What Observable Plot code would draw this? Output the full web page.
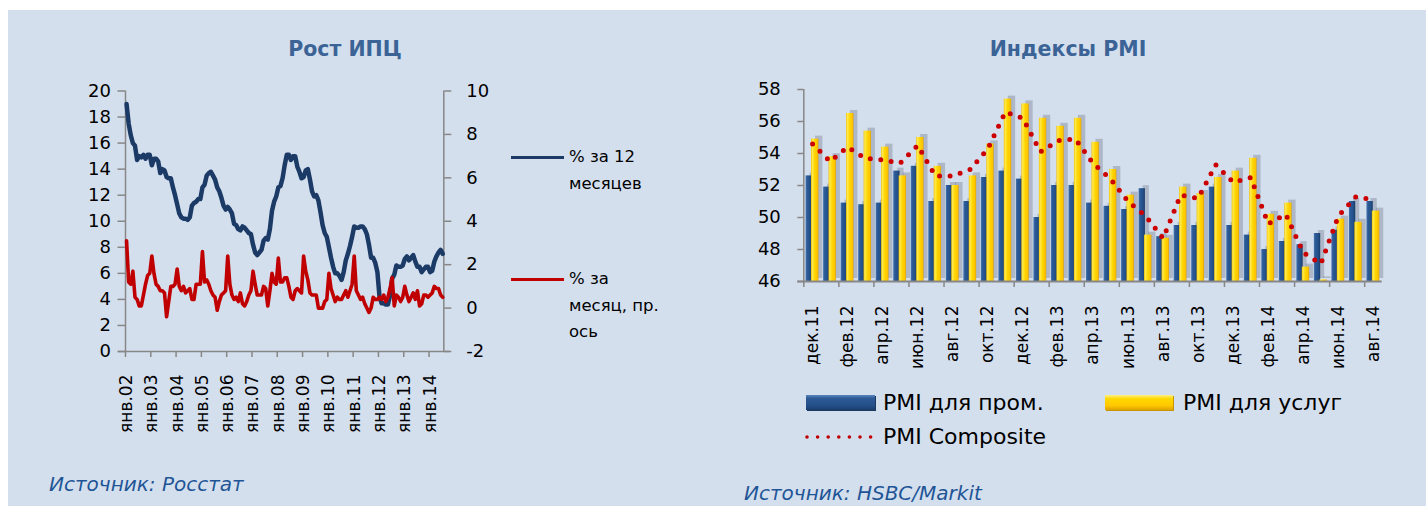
<!DOCTYPE html>
<html>
<head>
<meta charset="utf-8">
<script src="https://cdn.jsdelivr.net/npm/d3@7"></script>
<script src="https://cdn.jsdelivr.net/npm/@observablehq/plot@0.6"></script>
<style>
  html, body { margin: 0; padding: 0; background: #fff; }
  #page { position: relative; width: 1426px; height: 506px; overflow: hidden; background: #fff; font-family: "DejaVu Sans", sans-serif; }
  #panel { position: absolute; left: 8px; top: 10px; right: 0; bottom: 0; background: #d4dfee; }
  .abs { position: absolute; white-space: nowrap; line-height: 1; }
  .title { font-weight: bold; font-size: 20.5px; color: #3b6396; transform: translate(-50%, -50%); }
  .src { font-style: italic; font-size: 20px; color: #1f5596; transform: translateY(-50%); }
  .lg { font-size: 16.5px; color: #000; transform: translateY(-50%); }
  .lg2 { font-size: 22px; color: #000; transform: translateY(-50%); }
  .sw { position: absolute; }
</style>
</head>
<body>
<div id="page">
  <div id="panel"></div>
  <div class="abs title" style="left:345px; top:49px;">Рост ИПЦ</div>
  <div class="abs title" style="left:1068px; top:49px;">Индексы PMI</div>

  <div class="sw" style="left:511px; top:155.5px; width:53px; height:3px; background:#1b3a66;"></div>
  <div class="abs lg" style="left:569px; top:157px;">% за 12</div>
  <div class="abs lg" style="left:569px; top:184px;">месяцев</div>
  <div class="sw" style="left:511px; top:277.5px; width:53px; height:3px; background:#c00000;"></div>
  <div class="abs lg" style="left:569px; top:279px;">% за</div>
  <div class="abs lg" style="left:569px; top:306px;">месяц, пр.</div>
  <div class="abs lg" style="left:569px; top:332px;">ось</div>

  <div class="sw" style="left:806px; top:395px; width:69px; height:15px; background:linear-gradient(to bottom,#5a86c0 0%,#2d5a95 22%,#24508a 70%,#1a3e6c 100%); box-shadow: 1px 1px 0 #1a3a60;"></div>
  <div class="abs lg2" style="left:883px; top:403px;">PMI для пром.</div>
  <div class="sw" style="left:1105px; top:395px; width:68px; height:15px; background:linear-gradient(to bottom,#fff08a 0%,#ffd800 25%,#ffc800 70%,#dba200 100%); box-shadow: 1px 1px 0 #c89400;"></div>
  <div class="abs lg2" style="left:1183px; top:403px;">PMI для услуг</div>
  <svg class="sw" style="left:804px; top:430px;" width="72" height="14">
    <line x1="3" y1="7" x2="70" y2="7" stroke="#c00000" stroke-width="3.6" stroke-linecap="round" stroke-dasharray="0,10.6"></line>
  </svg>
  <div class="abs lg2" style="left:883px; top:437px;">PMI Composite</div>

  <div class="abs src" style="left:49px; top:484px;">Источник: Росстат</div>
  <div class="abs src" style="left:744px; top:493px;">Источник: HSBC/Markit</div>
</div>
<script>
// ---------- CPI data (monthly, янв.2002 – июл.2014) ----------
const cpiYearLabels = ["янв.02","янв.03","янв.04","янв.05","янв.06","янв.07","янв.08","янв.09","янв.10","янв.11","янв.12","янв.13","янв.14"];
const cpiYoY = [
  19.0,17.5,16.6,16.0,15.8,14.7,15.0,14.9,15.1,14.8,15.1,15.1,
  14.3,14.8,14.8,14.6,13.7,14.0,13.9,13.4,13.3,13.3,12.6,12.0,
  11.3,10.6,10.3,10.2,10.2,10.1,10.3,11.2,11.4,11.5,11.7,11.7,
  12.6,12.8,13.5,13.7,13.8,13.5,13.2,12.6,12.3,11.8,11.2,10.9,
  11.1,10.9,10.6,9.8,9.7,9.4,9.3,9.6,9.5,9.3,9.1,9.0,
  8.2,7.6,7.4,7.6,7.8,8.5,8.7,8.6,9.4,10.8,11.5,11.9,
  12.6,12.7,13.3,14.3,15.1,15.1,14.7,15.0,15.0,14.2,13.8,13.3,
  13.4,13.9,14.0,13.2,12.3,11.9,12.0,11.6,10.7,9.7,9.1,8.8,
  8.0,7.2,6.5,6.0,6.0,5.8,5.5,6.1,7.0,7.5,8.1,8.8,
  9.6,9.5,9.5,9.6,9.6,9.4,9.0,8.2,7.2,7.2,6.8,6.1,
  4.2,3.7,3.7,3.6,3.6,4.3,5.6,5.9,6.6,6.5,6.5,6.6,
  7.1,7.3,7.0,7.2,7.4,6.9,6.5,6.5,6.1,6.3,6.5,6.5,
  6.1,6.2,6.9,7.3,7.6,7.8,7.5
];
const cpiMoM = [
  3.1,1.2,1.1,1.7,0.5,0.4,0.1,0.1,0.6,1.1,1.5,1.6,
  2.4,1.6,1.1,1.0,0.8,0.8,0.7,-0.4,0.3,1.0,1.0,1.1,
  1.8,1.0,0.8,1.0,0.7,0.8,0.9,0.4,0.4,1.1,1.1,1.1,
  2.6,1.2,1.3,1.1,0.8,0.6,0.5,-0.1,0.3,0.6,0.7,0.8,
  2.4,1.1,0.6,0.4,0.5,0.3,0.7,0.2,0.1,0.3,0.6,0.8,
  1.7,1.1,0.6,0.6,0.6,1.0,0.9,0.1,0.8,1.6,1.2,1.1,
  2.3,1.2,1.2,1.4,1.4,1.0,0.5,0.4,0.8,0.9,0.8,0.7,
  2.4,1.7,1.3,0.7,0.6,0.6,0.6,0.0,0.0,0.0,0.3,0.4,
  1.6,0.9,0.6,0.3,0.5,0.4,0.4,0.6,0.8,0.5,0.8,1.1,
  2.4,0.8,0.6,0.4,0.5,0.2,0.0,-0.2,0.0,0.5,0.4,0.4,
  0.5,0.4,0.6,0.3,0.5,0.9,1.4,0.1,0.6,0.5,0.3,0.5,
  1.0,0.6,0.3,0.5,0.7,0.4,0.8,0.1,0.2,0.6,0.6,0.5,
  0.6,0.7,1.0,0.9,0.9,0.6,0.5
];
const cpiLeftTicks = [0,2,4,6,8,10,12,14,16,18,20];
const cpiRightTicks = [-2,0,2,4,6,8,10];

// ---------- PMI data (monthly, дек.11 – авг.14) ----------
const pmiMonths = ["дек.11","янв.12","фев.12","мар.12","апр.12","май.12","июн.12","июл.12","авг.12","сен.12","окт.12","ноя.12",
  "дек.12","янв.13","фев.13","мар.13","апр.13","май.13","июн.13","июл.13","авг.13","сен.13","окт.13","ноя.13",
  "дек.13","янв.14","фев.14","мар.14","апр.14","май.14","июн.14","июл.14","авг.14"];
const pmiManufacturing = [52.6,51.9,50.9,50.8,50.9,52.9,53.2,51.0,52.0,51.0,52.5,52.9,52.4,50.0,52.0,52.0,50.9,50.7,50.5,51.8,48.8,49.5,49.5,51.9,49.5,48.9,48.0,48.5,48.3,49.0,49.2,51.0,51.0];
const pmiServices = [54.9,53.8,56.5,55.4,54.4,52.6,55.0,53.2,52.0,52.6,54.6,57.4,57.1,56.2,55.7,56.2,54.7,53.0,51.4,48.9,48.7,51.9,51.5,52.5,52.9,53.7,50.2,50.9,46.9,46.1,49.9,49.7,50.4];
const pmiComposite = [54.6,53.5,54.4,53.7,53.6,53.4,54.5,52.6,52.6,53.0,54.3,56.6,56.2,54.1,54.8,54.9,53.4,52.4,51.0,50.1,48.7,51.4,51.2,53.3,52.2,52.5,49.6,50.2,47.8,47.1,50.1,51.3,51.1];
const pmiTicks = [46,48,50,52,54,56,58];

// ---------- styling ----------
const AX = "#878787";
const baseStyle = (left) => ({
  position: "absolute", left: left + "px", top: "0px",
  background: "transparent", overflow: "visible",
  fontFamily: "DejaVu Sans, sans-serif", fontSize: "18px", color: "#000", maxWidth: "none"
});

// right-axis (secondary) mapping onto the left scale
const rMin = cpiRightTicks[0], rMax = cpiRightTicks[cpiRightTicks.length - 1];
const lMin = cpiLeftTicks[0], lMax = cpiLeftTicks[cpiLeftTicks.length - 1];
const toLeft = v => lMin + (v - rMin) * (lMax - lMin) / (rMax - rMin);
const fromLeft = v => rMin + (v - lMin) * (rMax - rMin) / (lMax - lMin);

const nCpi = cpiYoY.length;
const yearIdx = cpiYearLabels.map((d, i) => i * 12);

const leftChart = Plot.plot({
  width: 715, height: 460,
  marginLeft: 125, marginRight: 715 - 443.3, marginTop: 90.5, marginBottom: 460 - 351,
  x: {domain: [0, nCpi], axis: null},
  y: {domain: [lMin, lMax], axis: null},
  style: baseStyle(0),
  marks: [
    Plot.axisY({ticks: cpiLeftTicks, tickSize: 7.5, tickPadding: 7, stroke: AX, strokeWidth: 1.5, fill: "#000", fontSize: 18}),
    Plot.axisY({anchor: "right", ticks: cpiRightTicks.map(toLeft), tickFormat: d => String(Math.round(fromLeft(d))),
      tickSize: 7, tickPadding: 15.5, stroke: AX, strokeWidth: 1.5, fill: "#000", fontSize: 18}),
    Plot.axisX({ticks: yearIdx, tickSize: 6, tickFormat: () => "", stroke: AX, strokeWidth: 1.5}),
    Plot.axisX({ticks: yearIdx.map(i => i + 0.5), tickSize: 0, tickPadding: 23, tickRotate: -90,
      tickFormat: d => cpiYearLabels[Math.round((d - 0.5) / 12)], fill: "#000", fontSize: 17}),
    Plot.ruleX([0, nCpi], {stroke: AX, strokeWidth: 1.5}),
    Plot.ruleY([lMin], {stroke: AX, strokeWidth: 1.5, insetLeft: -7, insetRight: -6}),
    Plot.line(cpiYoY, {x: (d, i) => i + 0.5, y: d => d, stroke: "#1b3a66", strokeWidth: 4.5, strokeLinejoin: "round"}),
    Plot.line(cpiMoM, {x: (d, i) => i + 0.5, y: d => toLeft(d), stroke: "#c00000", strokeWidth: 3.6, strokeLinejoin: "round"})
  ]
});

const nPmi = pmiMonths.length;
const pmiTickIdx = pmiMonths.map((d, i) => i).filter(i => i % 2 === 0);
const yBase = pmiTicks[0];

const rightChart = Plot.plot({
  width: 711, height: 460,
  marginLeft: 803.3 - 715, marginRight: 1426 - 1381.7, marginTop: 89, marginBottom: 460 - 281,
  x: {domain: [0, nPmi], axis: null},
  y: {domain: [yBase, pmiTicks[pmiTicks.length - 1]], axis: null},
  style: baseStyle(715),
  marks: [
    Plot.rectY(pmiManufacturing, {x1: (d, i) => i + 0.13, x2: (d, i) => i + 0.49, y1: yBase, y2: d => d,
      fill: "#5a6478", fillOpacity: 0.32, dx: 4, dy: -3, ariaLabel: "shadow"}),
    Plot.rectY(pmiServices, {x1: (d, i) => i + 0.44, x2: (d, i) => i + 0.86, y1: yBase, y2: d => d,
      fill: "#5a6478", fillOpacity: 0.32, dx: 4, dy: -3, ariaLabel: "shadow"}),
    Plot.rectY(pmiManufacturing, {x1: (d, i) => i + 0.13, x2: (d, i) => i + 0.49, y1: yBase, y2: d => d, fill: "url(#gBlue)"}),
    Plot.rectY(pmiServices, {x1: (d, i) => i + 0.44, x2: (d, i) => i + 0.86, y1: yBase, y2: d => d, fill: "url(#gYellow)"}),
    Plot.ruleX([0], {stroke: AX, strokeWidth: 1.5}),
    Plot.ruleY([yBase], {stroke: AX, strokeWidth: 2, insetLeft: -6}),
    Plot.axisY({ticks: pmiTicks, tickSize: 6, tickPadding: 17, stroke: AX, strokeWidth: 1.5, fill: "#000", fontSize: 18}),
    Plot.axisX({ticks: pmiTickIdx, tickSize: 6, tickFormat: () => "", stroke: AX, strokeWidth: 1.5}),
    Plot.axisX({ticks: pmiTickIdx.map(i => i + 0.5), tickSize: 0, tickPadding: 24, tickRotate: -90,
      tickFormat: d => pmiMonths[Math.round(d - 0.5)], fill: "#000", fontSize: 17}),
    Plot.line(pmiComposite, {x: (d, i) => i + 0.5, y: d => d, stroke: "#cc0000", strokeWidth: 5,
      strokeDasharray: "0,10.5", strokeLinecap: "round", strokeLinejoin: "round"})
  ]
});

// gradients and shadow blur
const defs = d3.select(rightChart).insert("defs", ":first-child");
const gb = defs.append("linearGradient").attr("id", "gBlue").attr("x1", 0).attr("x2", 1).attr("y1", 0).attr("y2", 0);
[[0, "#4677b3"], [0.25, "#2c5a95"], [0.7, "#23508a"], [1, "#183a66"]].forEach(([o, c]) => gb.append("stop").attr("offset", o).attr("stop-color", c));
const gy = defs.append("linearGradient").attr("id", "gYellow").attr("x1", 0).attr("x2", 1).attr("y1", 0).attr("y2", 0);
[[0, "#f0c000"], [0.18, "#ffea50"], [0.5, "#ffd600"], [0.85, "#ffc400"], [1, "#d89e00"]].forEach(([o, c]) => gy.append("stop").attr("offset", o).attr("stop-color", c));
d3.select(rightChart).selectAll('g[aria-label="shadow"]').style("filter", "blur(3.5px)");

const page = document.getElementById("page");
page.appendChild(leftChart);
page.appendChild(rightChart);
</script>
</body>
</html>
